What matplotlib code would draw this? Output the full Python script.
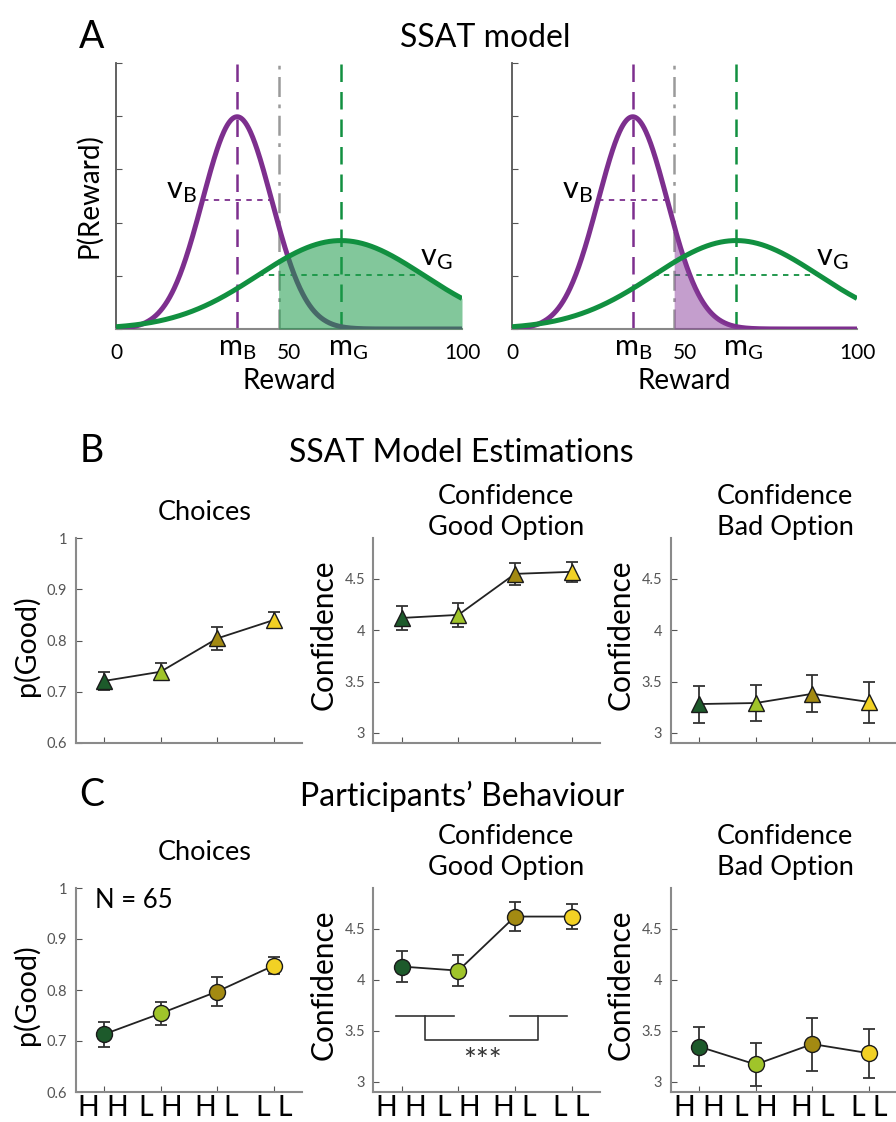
import numpy as np
import matplotlib
matplotlib.use('Agg')
import matplotlib.pyplot as plt

plt.rcParams['font.family'] = ['Lato', 'DejaVu Sans']
plt.rcParams['mathtext.fontset'] = 'custom'
plt.rcParams['mathtext.rm'] = 'Lato'
plt.rcParams['mathtext.it'] = 'Lato'

# ---------------- data ----------------
# Panel A: SSAT model illustration (Gaussian reward distributions)
m_bad, v_bad = 35, 10
m_good, v_good = 65, 24
threshold = 47
reward_ticks = [0, 50, 100]
reward_ticklabels = ['0', '50', '100']
mean_labels = [r'm$_{\mathrm{B}}$', r'm$_{\mathrm{G}}$']

conditions = ['H H', 'L H', 'H L', 'L L']
cond_colors = ['#1d5a2b', '#a0c42a', '#a38a12', '#f2d124']

# Panel B: model estimations
model_choice = [0.721, 0.739, 0.804, 0.840]
model_choice_err = [0.018, 0.017, 0.022, 0.015]
model_conf_good = [4.12, 4.15, 4.55, 4.57]
model_conf_good_err = [0.12, 0.115, 0.11, 0.10]
model_conf_bad = [3.28, 3.29, 3.38, 3.30]
model_conf_bad_err = [0.18, 0.18, 0.18, 0.20]

# Panel C: participants
part_choice = [0.713, 0.754, 0.797, 0.848]
part_choice_err = [0.025, 0.022, 0.029, 0.017]
part_conf_good = [4.13, 4.09, 4.62, 4.62]
part_conf_good_err = [0.155, 0.15, 0.14, 0.12]
part_conf_bad = [3.345, 3.17, 3.37, 3.28]
part_conf_bad_err = [0.19, 0.215, 0.26, 0.24]
n_participants = 65

choice_ticks = [0.6, 0.7, 0.8, 0.9, 1]
choice_ticklabels = ['0.6', '0.7', '0.8', '0.9', '1']
conf_ticks = [3, 3.5, 4, 4.5]
conf_ticklabels = ['3', '3.5', '4', '4.5']

# ---------------- figure ----------------
W, H = 896, 1122
fig = plt.figure(figsize=(W / 100, H / 100), dpi=100)

def ax_px(x0, y0, x1, y1):
    return fig.add_axes([x0 / W, 1 - y1 / H, (x1 - x0) / W, (y1 - y0) / H])

def ftext(px, py, s, **kw):
    fig.text(px / W, 1 - py / H, s, **kw)

PURPLE = '#7d2f8e'
GREEN = '#119040'
SPINE = '#8a8a8a'
TICKC = '#555555'

def gauss(x, m, s):
    return np.exp(-0.5 * ((x - m) / s) ** 2) / (s * np.sqrt(2 * np.pi))

x = np.linspace(0, 100, 601)
pb = gauss(x, m_bad, v_bad)
pg = gauss(x, m_good, v_good)
ytop = 0.05
px_y = ytop / 266.0  # data units per pixel (vertical) in panel A

for side, (x0, x1) in enumerate([(116, 462), (512, 857)]):
    ax = ax_px(x0, 63, x1, 329)
    ax.set_xlim(0, 100)
    ax.set_ylim(0, ytop)
    for s in ['top', 'right']:
        ax.spines[s].set_visible(False)
    ax.spines['left'].set_color('#555555')
    ax.spines['bottom'].set_color('#888888')
    ax.spines['left'].set_linewidth(1.3)
    ax.spines['bottom'].set_linewidth(1.5)
    ax.set_yticks(np.linspace(0, ytop, 6))
    ax.set_yticklabels([])
    ax.tick_params(axis='y', direction='in', length=4, color='#555555')
    ax.set_xticks(reward_ticks)
    ax.set_xticklabels(reward_ticklabels, fontsize=15)
    ax.tick_params(axis='x', length=0, pad=10)
    for mval, lab, dx in zip([m_bad, m_good], mean_labels, [0, 5]):
        ax.annotate(lab, xy=(mval, 0), xycoords=('data', 'axes fraction'),
                    xytext=(dx, -19), textcoords='offset points',
                    fontsize=21, ha='center', va='baseline')
    ax.set_xlabel('Reward', fontsize=20)
    ax.xaxis.set_label_coords(0.5, -0.145)
    if side == 0:
        ax.set_ylabel('P(Reward)', fontsize=20)
        ax.yaxis.set_label_coords(-0.04, 0.5)
    # vertical reference lines
    ax.plot([m_bad, m_bad], [0, ytop], color=PURPLE, lw=1.8, dashes=(7, 4), zorder=2)
    ax.plot([m_good, m_good], [0, ytop], color=GREEN, lw=1.8, dashes=(7, 4), zorder=2)
    ax.plot([threshold, threshold], [0, ytop], color='#9a9a9a', lw=1.8,
            dashes=(8, 3, 1.5, 3), zorder=2)
    # width markers
    hb = gauss(m_bad + v_bad, m_bad, v_bad)
    hg = gauss(m_good + v_good, m_good, v_good)
    ax.plot([m_bad - v_bad, m_bad + v_bad], [hb, hb], color=PURPLE, lw=1.3, dashes=(3, 3))
    ax.plot([m_good - v_good, m_good + v_good], [hg, hg], color=GREEN, lw=1.3, dashes=(3, 3))
    ax.plot(x, pb, color=PURPLE, lw=3.6, zorder=3, solid_capstyle='butt')
    ax.plot(x, pg, color=GREEN, lw=3.6, zorder=4, solid_capstyle='butt')
    sel = x >= threshold
    if side == 0:
        ax.fill_between(x[sel], 0, pg[sel], color='#1c9a4a', alpha=0.55, lw=0, zorder=3.5)
    else:
        ax.fill_between(x[sel], 0, pb[sel], color='#8a3f9c', alpha=0.5, lw=0, zorder=3.5)
    ax.text(m_bad - v_bad - 1.7, hb + 2 * px_y, r'v$_{\mathrm{B}}$', fontsize=22,
            ha='right', va='baseline')
    ax.text(m_good + v_good - 1, hg + 10 * px_y, r'v$_{\mathrm{G}}$', fontsize=22,
            ha='left', va='baseline')
    ax.patch.set_alpha(0)

# ---------------- B and C panels ----------------
def data_panel(x0, y0, y1, vals, errs, marker, ms, ylim, yticks, yticklabels, ylabel,
               xlabels):
    ax = ax_px(x0, y0, x0 + 226.7, y1)
    xs = np.arange(1, len(vals) + 1)
    ax.plot(xs, vals, color='#222222', lw=1.3, zorder=2)
    ax.errorbar(xs, vals, yerr=errs, fmt='none', ecolor='#333333', elinewidth=1.3,
                capsize=4.2, capthick=1.3, zorder=3)
    for xi, v, c in zip(xs, vals, cond_colors):
        ax.plot([xi], [v], marker=marker, ms=ms, mfc=c, mec='#1a1a1a', mew=1.0,
                ls='none', zorder=4)
    ax.set_xlim(0.5, 4.5)
    ax.set_ylim(*ylim)
    for s in ['top', 'right']:
        ax.spines[s].set_visible(False)
    for s in ['left', 'bottom']:
        ax.spines[s].set_color(SPINE)
        ax.spines[s].set_linewidth(1.5)
    ax.set_yticks(yticks)
    ax.set_yticklabels(yticklabels, fontsize=10.5, color=TICKC)
    ax.tick_params(axis='y', direction='in', length=4, color='#555555', pad=6)
    ax.set_xticks(xs)
    if xlabels:
        ax.set_xticklabels(conditions, fontsize=20.5)
    else:
        ax.set_xticklabels([])
    ax.tick_params(axis='x', direction='in', length=4, color='#555555', pad=2)
    if ylabel == 'p(Good)':
        ax.set_ylabel(ylabel, fontsize=20.5)
        ax.yaxis.set_label_coords(-0.157, 0.477)
    else:
        ax.set_ylabel(ylabel, fontsize=21.5)
        ax.yaxis.set_label_coords(-0.158, 0.526)
    ax.patch.set_alpha(0)
    return ax

# B row
data_panel(75.5, 538, 743, model_choice, model_choice_err, '^', 12, (0.6, 1.0),
           choice_ticks, choice_ticklabels, 'p(Good)', False)
data_panel(373.3, 538, 743, model_conf_good, model_conf_good_err, '^', 12, (2.9, 4.9),
           conf_ticks, conf_ticklabels, 'Confidence', False)
data_panel(670.7, 538, 743, model_conf_bad, model_conf_bad_err, '^', 12, (2.9, 4.9),
           conf_ticks, conf_ticklabels, 'Confidence', False)

# C row
axc1 = data_panel(75.5, 888, 1092, part_choice, part_choice_err, 'o', 11.5, (0.6, 1.0),
                  choice_ticks, choice_ticklabels, 'p(Good)', True)
axc1.text(0.84, 0.975, 'N = %d' % n_participants, fontsize=18.5, ha='left', va='center')
axc2 = data_panel(373.3, 888, 1092, part_conf_good, part_conf_good_err, 'o', 11.5, (2.9, 4.9),
                  conf_ticks, conf_ticklabels, 'Confidence', True)
axc3 = data_panel(670.7, 888, 1092, part_conf_bad, part_conf_bad_err, 'o', 11.5, (2.9, 4.9),
                  conf_ticks, conf_ticklabels, 'Confidence', True)

# significance bracket (HH/LH vs HL/LL)
bk = dict(color='#333333', lw=1.2)
axc2.plot([0.9, 1.92], [3.65, 3.65], **bk)
axc2.plot([2.92, 3.91], [3.65, 3.65], **bk)
axc2.plot([1.42, 1.42, 3.41, 3.41], [3.65, 3.41, 3.41, 3.65], **bk)
axc2.text(2.42, 3.20, '***', fontsize=22, ha='center', va='center', color='#333333')

# ---------------- headings ----------------
ftext(92, 37, 'A', fontsize=27, ha='center', va='center')
ftext(485, 38, 'SSAT model', fontsize=23, ha='center', va='center')
ftext(92, 451, 'B', fontsize=27, ha='center', va='center')
ftext(461, 453, 'SSAT Model Estimations', fontsize=23, ha='center', va='center')
ftext(92, 795, 'C', fontsize=27, ha='center', va='center')
ftext(462, 796, 'Participants\u2019 Behaviour', fontsize=23, ha='center', va='center')

for ycen in (512, 852):
    ftext(205, ycen, 'Choices', fontsize=19.5, ha='center', va='center')
    ftext(506, ycen, 'Confidence\nGood Option', fontsize=19.5, ha='center', va='center',
          linespacing=1.35)
    ftext(785, ycen, 'Confidence\nBad Option', fontsize=19.5, ha='center', va='center',
          linespacing=1.35)

fig.savefig('out.png', dpi=100)
